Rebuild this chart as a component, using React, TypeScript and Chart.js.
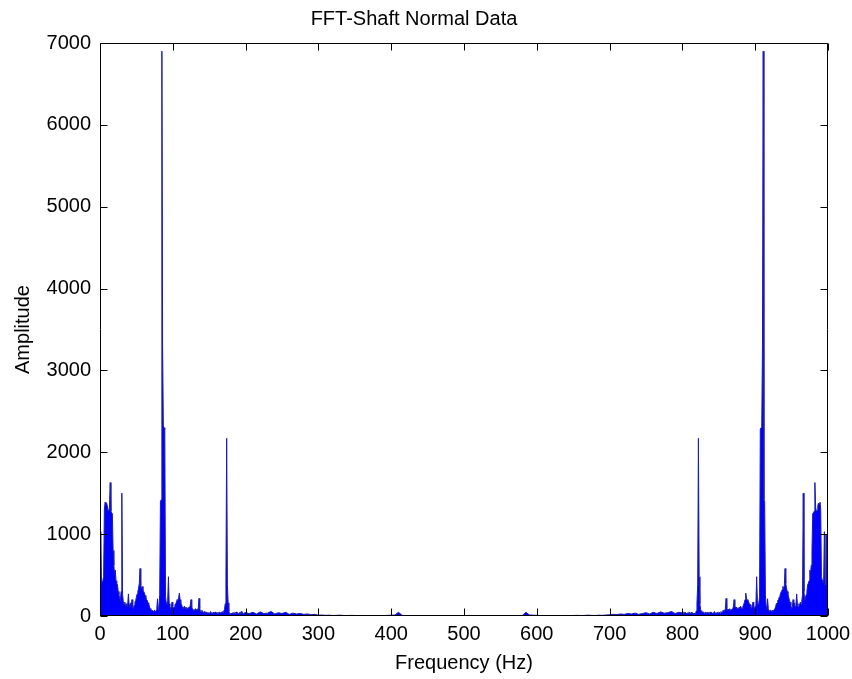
import React, { useEffect, useRef } from "react";
import { Chart, registerables } from "chart.js";

Chart.register(...registerables);

const TITLE = "FFT-Shaft Normal Data";
const X_LABEL = "Frequency (Hz)";
const Y_LABEL = "Amplitude";

const X_MIN = 0;
const X_MAX = 1000;
const X_STEP = 100;
const Y_MIN = 0;
const Y_MAX = 7000;
const Y_STEP = 1000;

// Amplitudes at 0..199 Hz (1 Hz apart)
const lowStart = 0;
const lowStep = 1;
const lowAmp = [
  380, 1030, 400, 420, 440, 480, 1300, 1390, 1370, 1380,
  1350, 1290, 1280, 1330, 1630, 1280, 1260, 1250, 800, 620,
  520, 560, 430, 400, 380, 300, 260, 220, 190, 300,
  1500, 260, 180, 140, 170, 120, 150, 110, 130, 270,
  140, 110, 160, 130, 200, 110, 90, 130, 170, 190,
  230, 270, 300, 340, 400, 580, 370, 330, 360, 320,
  300, 280, 250, 230, 200, 190, 160, 150, 110, 90,
  80, 60, 70, 55, 60, 75, 50, 65, 90, 210,
  80, 120, 260, 1400, 1420, 6900, 3300, 2320, 2300, 2280,
  240, 160, 140, 190, 480, 150, 120, 90, 110, 170,
  120, 90, 110, 140, 150, 170, 200, 190, 220, 280,
  200, 160, 140, 110, 90, 100, 120, 90, 110, 80,
  100, 90, 110, 100, 130, 200, 110, 90, 70, 80,
  60, 90, 75, 80, 70, 100, 215, 90, 60, 50,
  70, 45, 40, 55, 35, 40, 50, 30, 45, 35,
  40, 30, 55, 35, 40, 30, 45, 35, 50, 30,
  40, 35, 45, 30, 50, 40, 35, 45, 55, 40,
  60, 80, 150, 480, 2170, 380, 160, 60, 30, 20,
  35, 25, 40, 30, 45, 25, 35, 50, 30, 40,
  25, 35, 45, 30, 55, 25, 40, 30, 35, 45,
];

// Amplitudes at 200..795 Hz (5 Hz apart)
const midStart = 200;
const midStep = 5;
const midAmp = [
  40, 30, 45, 25, 50, 30, 35, 55, 25, 40, 30, 45, 20, 35, 25, 30, 20, 25, 15, 20,
  10, 12, 8, 10, 6, 8, 10, 6, 5, 8, 6, 5, 7, 5, 6, 5, 4, 6, 5, 8,
  10, 12, 45, 8, 5, 4, 3, 4, 3, 3, 2, 3, 2, 3, 2, 2, 3, 2, 2, 3,
  2, 3, 2, 2, 3, 2, 3, 2, 3, 3, 4, 3, 4, 5, 4, 6, 5, 45, 12, 10,
  8, 6, 5, 6, 4, 5, 6, 5, 7, 5, 6, 8, 6, 7, 10, 8, 6, 10, 8, 12,
  15, 20, 18, 25, 20, 30, 25, 35, 20, 30, 40, 25, 45, 30, 50, 35, 40, 55, 30, 45,
];

// Amplitudes at 800..1000 Hz (1 Hz apart)
const highStart = 800;
const highStep = 1;
const highAmp = [
  38, 28, 50, 30, 45, 35, 25, 40, 30, 50,
  35, 25, 45, 30, 40, 25, 35, 20, 30, 60,
  160, 380, 2170, 480, 150, 80, 60, 40, 55, 45,
  35, 40, 50, 30, 45, 35, 40, 30, 50, 35,
  45, 30, 40, 35, 55, 30, 40, 35, 45, 30,
  50, 40, 35, 55, 40, 45, 70, 50, 60, 90,
  215, 100, 70, 80, 75, 90, 60, 80, 70, 90,
  110, 200, 130, 100, 110, 90, 100, 80, 110, 90,
  120, 100, 90, 110, 140, 160, 200, 280, 220, 190,
  200, 170, 150, 140, 110, 90, 120, 170, 110, 90,
  120, 150, 480, 190, 140, 160, 240, 2280, 2300, 2320,
  3300, 6900, 1420, 1400, 260, 120, 80, 210, 90, 65,
  50, 75, 60, 55, 70, 60, 80, 90, 110, 150,
  160, 190, 200, 230, 250, 280, 300, 320, 360, 330,
  370, 580, 400, 340, 300, 270, 230, 190, 170, 130,
  90, 110, 200, 130, 160, 110, 140, 270, 130, 110,
  150, 120, 170, 140, 180, 260, 1500, 300, 190, 220,
  260, 300, 380, 400, 430, 560, 520, 620, 800, 1250,
  1260, 1280, 1630, 1330, 1280, 1290, 1350, 1380, 1370, 1390,
  1300, 480, 440, 420, 400, 1030, 380, 990, 980, 400,
  380,
];

const FONT_FAMILY = "'Liberation Sans', Arial, Helvetica, sans-serif";

function toPoints(start: number, step: number, amps: number[]) {
  return amps.map((v, i) => ({ x: start + i * step, y: v }));
}

const framePlugin = {
  id: "matlabFrame",
  afterDraw(chart: any) {
    const { ctx, chartArea, scales } = chart;
    const l = Math.round(chartArea.left) + 0.5;
    const r = Math.round(chartArea.right) - 0.5;
    const t = Math.round(chartArea.top) + 0.5;
    const b = Math.round(chartArea.bottom) - 0.5;
    const tickLen = 7;
    ctx.save();
    ctx.strokeStyle = "#000";
    ctx.lineWidth = 1;
    ctx.beginPath();
    ctx.rect(l, t, r - l, b - t);
    ctx.stroke();
    ctx.beginPath();
    scales.x.ticks.forEach((tk: any) => {
      const px = Math.round(scales.x.getPixelForValue(tk.value)) + 0.5;
      ctx.moveTo(px, b);
      ctx.lineTo(px, b - tickLen);
      ctx.moveTo(px, t);
      ctx.lineTo(px, t + tickLen);
    });
    scales.y.ticks.forEach((tk: any) => {
      const py = Math.round(scales.y.getPixelForValue(tk.value)) + 0.5;
      ctx.moveTo(l, py);
      ctx.lineTo(l + tickLen, py);
      ctx.moveTo(r, py);
      ctx.lineTo(r - tickLen, py);
    });
    ctx.stroke();
    ctx.restore();
  },
};

export default function App() {
  const canvasRef = useRef<HTMLCanvasElement | null>(null);

  useEffect(() => {
    if (!canvasRef.current) return;
    const data = [
      ...toPoints(lowStart, lowStep, lowAmp),
      ...toPoints(midStart, midStep, midAmp),
      ...toPoints(highStart, highStep, highAmp),
    ];
    const font = { family: FONT_FAMILY, size: 20, weight: "normal" as const };
    const plain = (v: any) => String(v);
    const chart = new Chart(canvasRef.current, {
      type: "line",
      data: {
        datasets: [
          {
            data,
            borderColor: "#1a1ab4",
            backgroundColor: "#0000ff",
            borderWidth: 1,
            fill: "origin",
            pointRadius: 0,
            tension: 0,
          },
        ],
      },
      options: {
        responsive: false,
        animation: false,
        events: [],
        layout: { padding: { left: 0, right: 24, top: 0, bottom: 0 } },
        plugins: {
          legend: { display: false },
          tooltip: { enabled: false },
          title: {
            display: true,
            text: TITLE,
            color: "#000",
            font,
            padding: { top: 7, bottom: 12 },
          },
        },
        scales: {
          x: {
            type: "linear",
            min: X_MIN,
            max: X_MAX,
            grid: { display: false, drawTicks: false },
            border: { display: false },
            ticks: {
              stepSize: X_STEP,
              autoSkip: false,
              maxRotation: 0,
              color: "#000",
              font,
              padding: 6,
              callback: plain,
            },
            title: {
              display: true,
              text: X_LABEL,
              color: "#000",
              font,
              padding: { top: 0, bottom: 4 },
            },
            afterFit: (s: any) => {
              s.height = 63;
              s.paddingLeft = 0;
              s.paddingRight = 0;
            },
          },
          y: {
            type: "linear",
            min: Y_MIN,
            max: Y_MAX,
            grid: { display: false, drawTicks: false },
            border: { display: false },
            ticks: {
              stepSize: Y_STEP,
              color: "#000",
              font,
              padding: 9,
              callback: plain,
            },
            title: {
              display: true,
              text: Y_LABEL,
              color: "#000",
              font,
              padding: { top: 11, bottom: 0 },
            },
            afterFit: (s: any) => {
              s.width = 100;
              s.paddingTop = 0;
              s.paddingBottom = 0;
            },
          },
        },
      },
      plugins: [framePlugin],
    });
    return () => chart.destroy();
  }, []);

  return (
    <div style={{ position: "absolute", left: 0, top: 0, width: 852, height: 679, background: "#fff" }}>
      <canvas ref={canvasRef} width={852} height={679} />
    </div>
  );
}
